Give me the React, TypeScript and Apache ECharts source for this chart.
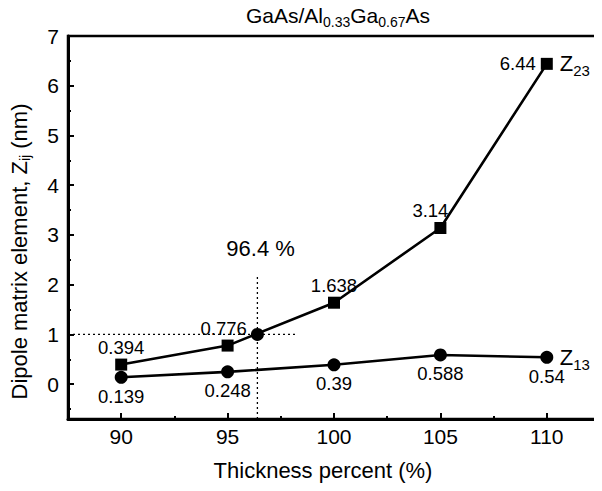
import React, { useEffect, useRef } from "react";
import * as echarts from "echarts";

const xValues = [90, 95, 100, 105, 110];
const z23 = [0.394, 0.776, 1.638, 3.14, 6.44];
const z13 = [0.139, 0.248, 0.39, 0.588, 0.54];
const z23Labels = ["0.394", "0.776", "1.638", "3.14", "6.44"];
const z13Labels = ["0.139", "0.248", "0.39", "0.588", "0.54"];
const crossPoint = [96.4, 1.0];
const crossLabel = "96.4 %";
const crossLabelPos = [96.55, 2.72];
const xTickLabels = [90, 95, 100, 105, 110];
const xMinorTicks = [92.5, 97.5, 102.5, 107.5];
const yTickLabels = [0, 1, 2, 3, 4, 5, 6, 7];
const yMinorTicks = [-0.5, 0.5, 1.5, 2.5, 3.5, 4.5, 5.5, 6.5];
const xRange = [87.5, 112.5];
const yRange = [-0.7, 7];
const hGuide = [[87.5, 1.0], [98.2, 1.0]];
const vGuide = [[96.4, -0.7], [96.4, 2.2]];

const FONT = "Liberation Sans";

const mkRich = (main: number, sub: number, drop: number) => ({
  main: { fontFamily: FONT, fontSize: main, fontWeight: "normal", color: "#000" },
  sub: {
    fontFamily: FONT,
    fontSize: sub,
    fontWeight: "normal",
    color: "#000",
    padding: [drop, 0, 0, 0],
  },
});

export default function App() {
  const ref = useRef<HTMLDivElement>(null);
  useEffect(() => {
    if (!ref.current) return;
    const chart = echarts.init(ref.current, null, { renderer: "svg" });
    const baseX = {
      type: "value",
      min: xRange[0],
      max: xRange[1],
      splitLine: { show: false },
      axisLine: { onZero: false },
    };
    const baseY = {
      type: "value",
      min: yRange[0],
      max: yRange[1],
      splitLine: { show: false },
    };
    const dataLabelStyle = { fontFamily: FONT, fontSize: 18.5, color: "#000" };
    const z23Offsets = [[0, 0], [-4, 0], [0, 0], [-10, 0], [0, 0]];
    chart.setOption({
      animation: false,
      backgroundColor: "#fff",
      title: {
        text: "{main|GaAs/Al}{sub|0.33}{main|Ga}{sub|0.67}{main|As}",
        left: 333,
        textAlign: "center",
        top: -3,
        textStyle: { fontWeight: "normal", rich: mkRich(21, 14, 13) },
      },
      grid: {
        left: 65,
        right: 2,
        top: 36,
        bottom: 72,
        show: true,
        borderColor: "#000",
        borderWidth: 2.5,
        backgroundColor: "transparent",
      },
      xAxis: [
        {
          ...baseX,
          name: "Thickness percent (%)",
          nameLocation: "middle",
          nameGap: 40,
          nameTextStyle: {
            fontFamily: FONT,
            fontSize: 22,
            color: "#000",
            padding: [0, 22, 0, 0],
          },
          axisLine: { show: true, onZero: false, lineStyle: { color: "#000", width: 3 } },
          axisTick: {
            show: true,
            inside: true,
            length: 6,
            customValues: xTickLabels,
            lineStyle: { color: "#000", width: 2 },
          },
          axisLabel: {
            customValues: xTickLabels,
            margin: 7,
            fontFamily: FONT,
            fontSize: 21,
            color: "#000",
          },
        },
        {
          ...baseX,
          position: "bottom",
          axisLine: { show: false, onZero: false },
          axisTick: {
            show: true,
            inside: true,
            length: 3,
            customValues: xMinorTicks,
            lineStyle: { color: "#000", width: 2 },
          },
          axisLabel: { show: false },
        },
      ],
      yAxis: [
        {
          ...baseY,
          name: "{main|Dipole matrix element, Z}{sub|ij}{main| (nm)}",
          nameLocation: "middle",
          nameGap: 36,
          nameRotate: 90,
          nameTextStyle: { rich: mkRich(22, 14, 12), padding: [0, 48, 0, 0] },
          axisLine: { show: true, onZero: false, lineStyle: { color: "#000", width: 3 } },
          axisTick: {
            show: true,
            inside: true,
            length: 6,
            customValues: yTickLabels,
            lineStyle: { color: "#000", width: 2 },
          },
          axisLabel: {
            customValues: yTickLabels,
            margin: 9,
            fontFamily: FONT,
            fontSize: 21,
            color: "#000",
          },
        },
        {
          ...baseY,
          position: "left",
          axisLine: { show: false, onZero: false },
          axisTick: {
            show: true,
            inside: true,
            length: 3,
            customValues: yMinorTicks,
            lineStyle: { color: "#000", width: 2 },
          },
          axisLabel: { show: false },
        },
      ],
      series: [
        {
          type: "line",
          data: hGuide,
          symbol: "none",
          lineStyle: { color: "#000", width: 1.3, type: [2, 3] },
          silent: true,
          z: 1,
        },
        {
          type: "line",
          data: vGuide,
          symbol: "none",
          lineStyle: { color: "#000", width: 1.3, type: [2, 3] },
          silent: true,
          z: 1,
        },
        {
          type: "scatter",
          data: [crossLabelPos],
          symbolSize: 0,
          silent: true,
          itemStyle: { opacity: 1, color: "#000" },
          label: {
            show: true,
            position: "inside",
            formatter: crossLabel,
            fontFamily: FONT,
            fontSize: 22,
            color: "#000",
          },
        },
        {
          name: "Z23",
          type: "line",
          data: xValues.map((x, i) => ({
            value: [x, z23[i]],
            label: {
              show: true,
              formatter: z23Labels[i],
              position: i === 4 ? "left" : "top",
              distance: i === 4 ? 5 : 2,
              offset: z23Offsets[i],
            },
          })),
          symbol: "rect",
          symbolSize: 12,
          itemStyle: { color: "#000", opacity: 1 },
          lineStyle: { color: "#000", width: 2.6 },
          label: dataLabelStyle,
          endLabel: {
            show: true,
            distance: 13,
            formatter: "{main|Z}{sub|23}",
            rich: mkRich(22, 15, 14),
          },
          z: 3,
        },
        {
          name: "Z13",
          type: "line",
          data: xValues.map((x, i) => ({
            value: [x, z13[i]],
            label: {
              show: true,
              formatter: z13Labels[i],
              position: "bottom",
              distance: 3,
            },
          })),
          symbol: "circle",
          symbolSize: 13,
          itemStyle: { color: "#000", opacity: 1 },
          lineStyle: { color: "#000", width: 2.6 },
          label: dataLabelStyle,
          endLabel: {
            show: true,
            distance: 13,
            formatter: "{main|Z}{sub|13}",
            rich: mkRich(22, 15, 14),
          },
          z: 3,
        },
        {
          type: "scatter",
          data: [crossPoint],
          symbol: "circle",
          symbolSize: 13,
          itemStyle: { color: "#000", opacity: 1 },
          z: 4,
        },
      ],
    });
    return () => chart.dispose();
  }, []);
  return <div ref={ref} style={{ width: 602, height: 491, margin: -8 }} />;
}
